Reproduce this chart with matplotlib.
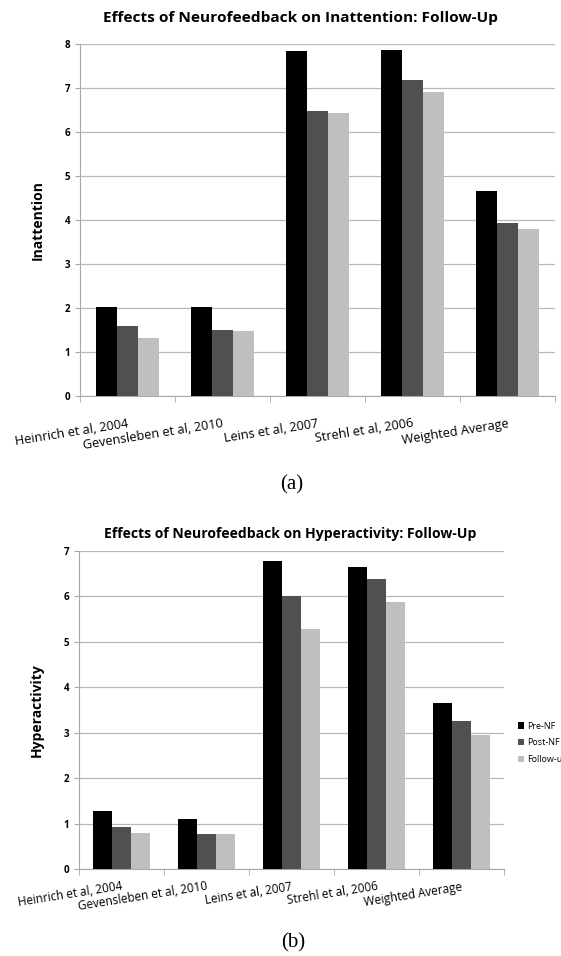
import numpy as np
import matplotlib
matplotlib.use("Agg")
import matplotlib.pyplot as plt

studies = ["Heinrich et al, 2004", "Gevensleben et al, 2010", "Leins et al, 2007",
           "Strehl et al, 2006", "Weighted Average"]
series = ["Pre-NF", "Post-NF", "Follow-up"]

# inattention (panel a)
inatt_pre = [2.03, 2.02, 7.83, 7.87, 4.65]
inatt_post = [1.58, 1.50, 6.47, 7.17, 3.93]
inatt_follow = [1.32, 1.48, 6.43, 6.90, 3.80]

# hyperactivity (panel b)
hyper_pre = [1.27, 1.10, 6.78, 6.65, 3.65]
hyper_post = [0.93, 0.78, 6.00, 6.38, 3.26]
hyper_follow = [0.80, 0.76, 5.28, 5.87, 2.95]

colors = ["#000000", "#505050", "#bfbfbf"]
plt.rcParams['font.family'] = ['Open Sans', 'DejaVu Sans']

fig = plt.figure(figsize=(5.61, 9.56), dpi=100)


def panel(rect, vals, ymax, title, title_xy, title_size, ylabel,
          xlab_size, xlab_pad, legend=False):
    ax = fig.add_axes(rect)
    x = np.arange(len(studies))
    w = 0.22
    bars = []
    for i, v in enumerate(vals):
        b = ax.bar(x + (i - 1) * w, v, w, color=colors[i], label=series[i], zorder=3)
        bars.append(b)
    ax.set_xlim(-0.5, len(studies) - 0.5)
    ax.set_ylim(0, ymax)
    ax.set_yticks(range(ymax + 1))
    ax.yaxis.grid(True, color="#b8b8b8", lw=0.9, zorder=0)
    for s in ["top", "right"]:
        ax.spines[s].set_visible(False)
    for s in ["left", "bottom"]:
        ax.spines[s].set_color("#a8a8a8")
    ax.set_xticks(x)
    ax.set_xticklabels(studies, rotation=9, ha="right", rotation_mode="anchor",
                       fontsize=xlab_size)
    ax.tick_params(axis="x", length=0, pad=xlab_pad)
    ax.set_xticks(np.arange(len(studies) + 1) - 0.5, minor=True)
    ax.tick_params(axis="x", which="minor", length=4, color="#a8a8a8")
    ax.tick_params(axis="y", length=3.5, color="#a8a8a8", labelsize=7)
    for lab in ax.get_yticklabels():
        lab.set_fontweight("bold")
    fig.text(title_xy[0], title_xy[1], title, ha="center", va="center",
             fontsize=title_size, fontweight="bold")
    ax.set_ylabel(ylabel, fontsize=10, fontweight="bold", labelpad=14)
    if legend:
        fig.legend(handles=bars, labels=series, loc="upper left",
                   bbox_to_anchor=(0.923, 0.245), frameon=False, fontsize=6.5,
                   borderpad=0, borderaxespad=0,
                   handlelength=0.7, handleheight=0.7, handletextpad=0.35,
                   labelspacing=0.85)
    return ax


panel([0.1426, 0.5858, 0.8467, 0.3682],
      [inatt_pre, inatt_post, inatt_follow], 8,
      "Effects of Neurofeedback on Inattention: Follow-Up", (0.535, 0.981), 11.1,
      "Inattention", 9.2, 15)
panel([0.1408, 0.0910, 0.7576, 0.3326],
      [hyper_pre, hyper_post, hyper_follow], 7,
      "Effects of Neurofeedback on Hyperactivity: Follow-Up", (0.517, 0.441), 10.1,
      "Hyperactivity", 8.5, 8, legend=True)

fig.text(0.52, 0.493, "(a)", ha="center", va="center", fontsize=15, family="Liberation Serif")
fig.text(0.523, 0.014, "(b)", ha="center", va="center", fontsize=15, family="Liberation Serif")

fig.savefig("out.png", dpi=100)
